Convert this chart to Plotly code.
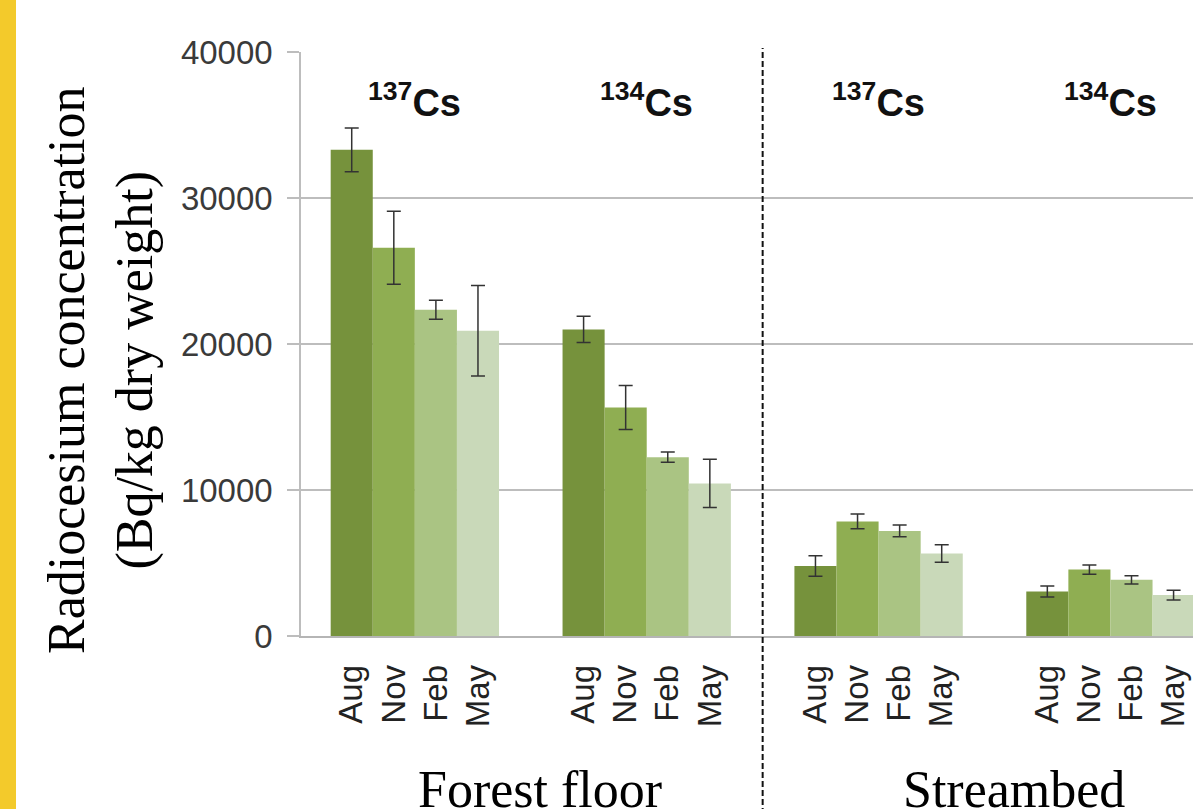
import plotly.graph_objects as go

# ---- data ----
months = ["Aug", "Nov", "Feb", "May"]
groups = ["Forest floor 137Cs", "Forest floor 134Cs", "Streambed 137Cs", "Streambed 134Cs"]
group_labels = ["<sup>137</sup>Cs", "<sup>134</sup>Cs", "<sup>137</sup>Cs", "<sup>134</sup>Cs"]
aug = [33300, 21000, 4800, 3050]
nov = [26600, 15650, 7850, 4550]
feb = [22350, 12250, 7200, 3850]
may = [20900, 10450, 5650, 2800]
aug_err = [1500, 900, 700, 380]
nov_err = [2500, 1500, 500, 320]
feb_err = [650, 350, 400, 280]
may_err = [3100, 1650, 600, 330]
y_ticks = [0, 10000, 20000, 30000, 40000]
site_labels = ["Forest floor", "Streambed"]

series = [aug, nov, feb, may]
errors = [aug_err, nov_err, feb_err, may_err]
colors = ["#76923c", "#8fae52", "#aac483", "#c9d9b9"]

bw = 0.1815
SANS = "Liberation Sans, Arial, sans-serif"
SERIF = "Liberation Serif, Times New Roman, serif"

fig = go.Figure()
tickvals, ticktext = [], []
for m, (name, vals, errs, col) in enumerate(zip(months, series, errors, colors)):
    xs = [g + (m - 1.5) * bw for g in range(len(groups))]
    tickvals += xs
    ticktext += [name] * len(xs)
    fig.add_trace(go.Bar(
        x=xs, y=vals, width=bw, name=name,
        marker=dict(color=col, line=dict(width=0)),
        error_y=dict(type="data", array=errs, visible=True,
                     color="#333333", thickness=1.5, width=7),
        showlegend=False,
    ))

# group labels (isotopes)
for g, lab in enumerate(group_labels):
    fig.add_annotation(x=g, y=36700, xref="x", yref="y", text="<b>" + lab + "</b>",
                       showarrow=False, font=dict(family=SANS, size=38, color="#111111"),
                       xanchor="center", yanchor="middle")

# site labels
for xpos, lab in zip([0.54, 2.584], site_labels):
    fig.add_annotation(x=xpos, y=-0.262, xref="x", yref="paper", text=lab,
                       showarrow=False, font=dict(family=SERIF, size=52, color="#000000"),
                       xanchor="center", yanchor="middle")

# y title
fig.add_annotation(x=-0.224, y=0.454, xref="paper", yref="paper",
                   text="Radiocesium concentration<br>(Bq/kg dry weight)",
                   textangle=-90, showarrow=False,
                   font=dict(family=SERIF, size=52, color="#000000"),
                   xanchor="center", yanchor="middle")

# dashed separator
fig.add_shape(type="line", xref="x", yref="paper", x0=1.5, x1=1.5, y0=-0.32, y1=1.007,
              line=dict(color="#111111", width=2, dash="6px,3px"))
# yellow stripe
fig.add_shape(type="rect", xref="paper", yref="paper", x0=-0.3375, x1=-0.3195, y0=-0.32, y1=1.1,
              fillcolor="#f3ca2b", line=dict(width=0), layer="above")

fig.update_layout(
    width=1193, height=809,
    margin=dict(l=301, r=0, t=52, b=173),
    paper_bgcolor="white", plot_bgcolor="white",
    barmode="overlay",
    xaxis=dict(range=[-0.491, 3.356], tickvals=tickvals, ticktext=ticktext, tickangle=-90,
               tickfont=dict(family=SANS, size=33, color="#222222"),
               showgrid=False, zeroline=False, showline=True, linecolor="#b5b5b5", linewidth=1.5,
               ticks="", ticklabelstandoff=14),
    yaxis=dict(range=[0, 40000], tickvals=y_ticks, ticktext=[str(v) for v in y_ticks],
               tickfont=dict(family=SANS, size=33, color="#3a3a3a"),
               showgrid=True, gridcolor="#bdbdbd", gridwidth=1.5, zeroline=False,
               showline=True, linecolor="#bdbdbd", linewidth=1.5,
               ticks="outside", ticklen=12, tickcolor="#bdbdbd", tickwidth=1.5,
               ticklabelstandoff=8),
)

fig.write_html("out.html", config={"displayModeBar": False},
               post_script="document.body.style.margin='0';document.body.style.overflow='hidden';")
